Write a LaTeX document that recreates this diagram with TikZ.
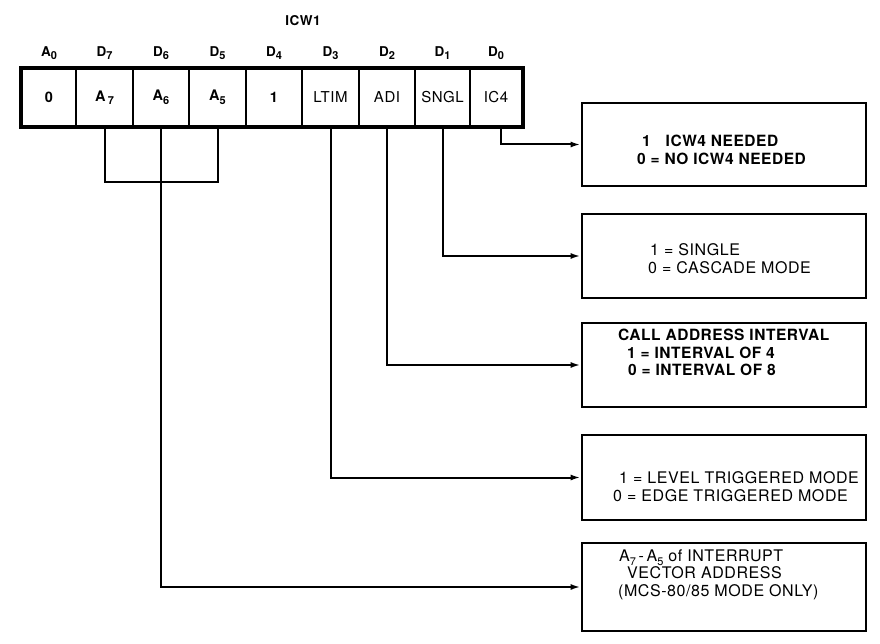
\documentclass[tikz,border=0pt]{standalone}
\usepackage{fontspec}
\setmainfont{TeX Gyre Heros}[LetterSpace=3.5]
\usetikzlibrary{arrows.meta}
\newcommand\sbx[1]{\raisebox{-0.45ex}{\fontsize{11}{11}\selectfont #1}}
\begin{document}
\begin{tikzpicture}[x=1pt,y=-1pt,
  cell/.style={draw, line width=2pt, minimum height=57pt, inner sep=0pt,
    font=\fontsize{15}{17}\selectfont},
  bcell/.style={cell, font=\fontsize{14.5}{17}\selectfont\bfseries},
  bitlabel/.style={inner sep=0pt, font=\fontsize{13.5}{15}\selectfont\bfseries},
  outbox/.style={draw, line width=2.8pt, minimum width=284pt, inner sep=0pt},
  boxtext/.style={anchor=west, align=left, inner sep=0pt,
    font=\fontsize{16}{17.5}\selectfont},
  bboxtext/.style={boxtext, font=\fontsize{15.5}{17.5}\selectfont\bfseries},
  conn/.style={line width=2pt},
  arr/.style={conn, -{Latex[length=10pt,width=6pt]}}]
\useasboundingbox (0,0) rectangle (880,644);

% title
\node[bitlabel] (title) at (303,21) {ICW1};

% register cells (dividers at 22,76,133,189,246,302,359,415,470,522)
\node[bcell, minimum width=54pt] (c0) at (49,97.5) {0};
\node[bcell, minimum width=57pt] (c1) at (104.5,97.5) {A\,\sbx{7}};
\node[bcell, minimum width=56pt] (c2) at (161,97.5) {A\sbx{6}};
\node[bcell, minimum width=57pt] (c3) at (217.5,97.5) {A\sbx{5}};
\node[bcell, minimum width=56pt] (c4) at (274,97.5) {1};
\node[cell, minimum width=57pt] (c5) at (330.5,97.5) {LTIM};
\node[cell, minimum width=56pt] (c6) at (387,97.5) {ADI};
\node[cell, minimum width=55pt] (c7) at (442.5,97.5) {SNGL};
\node[cell, minimum width=52pt] (c8) at (496,97.5) {IC4};
\draw[line width=3.5pt] (c0.north west) rectangle (c8.south east);

% bit labels
\node[bitlabel] (l0) at (c0 |- 0,53) {A\sbx{0}};
\node[bitlabel] (l1) at (c1 |- 0,53) {D\sbx{7}};
\node[bitlabel] (l2) at (c2 |- 0,53) {D\sbx{6}};
\node[bitlabel] (l3) at (c3 |- 0,53) {D\sbx{5}};
\node[bitlabel] (l4) at (c4 |- 0,53) {D\sbx{4}};
\node[bitlabel] (l5) at (c5 |- 0,53) {D\sbx{3}};
\node[bitlabel] (l6) at (c6 |- 0,53) {D\sbx{2}};
\node[bitlabel] (l7) at (c7 |- 0,53) {D\sbx{1}};
\node[bitlabel] (l8) at (c8 |- 0,53) {D\sbx{0}};

% output boxes
\node[outbox, minimum height=83pt] (b1) at (724,144.5) {};
\node[outbox, minimum height=84pt] (b2) at (724,256) {};
\node[outbox, minimum height=84pt] (b3) at (724,365) {};
\node[outbox, minimum height=85pt] (b4) at (724,477.5) {};
\node[outbox, minimum height=88pt] (b5) at (724,587) {};

% box texts
\node[bboxtext] (t1) at (637,150) {\hspace*{5pt}1\hspace{10pt} ICW4 NEEDED\\0 = NO ICW4 NEEDED};
\node[boxtext] (t2) at (648,258.5) {\hspace*{2pt}1 = SINGLE\\0 = CASCADE MODE};
\node[bboxtext] (t3) at (618,352.5) {CALL ADDRESS INTERVAL\\\hspace*{9pt}1 = INTERVAL OF 4\\\hspace*{10pt}0 = INTERVAL OF 8};
\node[boxtext] (t4) at (613,486.5) {\hspace*{6pt}1 = LEVEL TRIGGERED MODE\\0 = EDGE TRIGGERED MODE};
\node[boxtext] (t5) at (618,574.7) {\hspace*{1pt}A\sbx{7}\,-\,A\sbx{5} of INTERRUPT\\\hspace*{9pt}VECTOR ADDRESS\\(MCS-80/85 MODE ONLY)};

% connectors
\coordinate (brk) at (0,182);
\draw[conn] (c1.south) -- (c1.south |- brk) -- (c3.south |- brk) -- (c3.south);
\draw[arr] ([xshift=5pt]c8.south) |- (b1.west);
\draw[arr] (c7.south) |- (b2.west);
\draw[arr] (c6.south) |- (b3.west);
\draw[arr] (c5.south) |- (b4.west);
\draw[arr] (c2.south) |- (b5.west);
\end{tikzpicture}
\end{document}
